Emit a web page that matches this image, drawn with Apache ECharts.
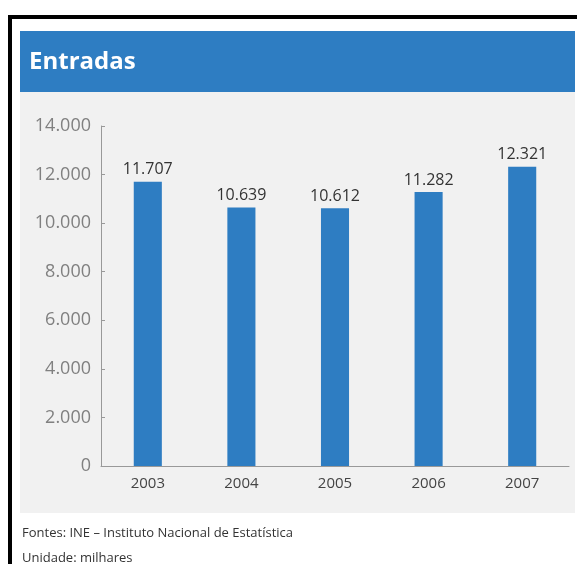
<!DOCTYPE html>
<html>
<head>
<meta charset="utf-8">
<title>Entradas</title>
<script src="https://cdn.jsdelivr.net/npm/echarts@6/dist/echarts.min.js"></script>
<style>
  html, body { margin: 0; padding: 0; background: #ffffff; }
  #chart { width: 577px; height: 564px; }
</style>
</head>
<body>
<div id="chart"></div>
<script>
// Entradas (milhares), 2003–2007
const years = ['2003', '2004', '2005', '2006', '2007'];
const entradas = [11707, 10639, 10612, 11282, 12321];
const yTicks = [0, 2000, 4000, 6000, 8000, 10000, 12000, 14000];

const FONT = '"Open Sans", "Noto Sans", sans-serif';
const BLUE = '#2e7dc2';

// Portuguese thousands separator
function fmt(v) {
  return String(v).replace(/\B(?=(\d{3})+(?!\d))/g, '.');
}

const chart = echarts.init(document.getElementById('chart'), null, { renderer: 'canvas' });

chart.setOption({
  animation: false,
  backgroundColor: '#ffffff',
  graphic: [
    // black frame (top and left edges)
    { type: 'rect', shape: { x: 8, y: 15, width: 569, height: 4 }, style: { fill: '#000' }, z: -10 },
    { type: 'rect', shape: { x: 8, y: 15, width: 4, height: 549 }, style: { fill: '#000' }, z: -10 },
    // header band
    { type: 'rect', shape: { x: 20, y: 31, width: 555, height: 61 }, style: { fill: BLUE }, z: -10 },
    // plot panel
    { type: 'rect', shape: { x: 20, y: 92, width: 555, height: 421 }, style: { fill: '#f1f1f1' }, z: -10 },
    {
      type: 'text', left: 29, top: 50,
      style: { text: 'Entradas', fill: '#ffffff', font: 'bold 24px ' + FONT }
    },
    {
      type: 'text', left: 22, top: 527,
      style: { text: 'Fontes: INE – Instituto Nacional de Estatística', fill: '#333', font: '13px ' + FONT }
    },
    {
      type: 'text', left: 22, top: 552,
      style: { text: 'Unidade: milhares', fill: '#333', font: '13px ' + FONT }
    }
  ],
  grid: { left: 101, right: 8, top: 126, bottom: 98, containLabel: false },
  xAxis: {
    type: 'category',
    data: years,
    axisLine: { lineStyle: { color: '#999', width: 1 } },
    axisTick: { inside: true, length: 8, lineStyle: { color: '#999' } },
    axisLabel: { color: '#444', fontFamily: FONT, fontSize: 15, margin: 10 }
  },
  yAxis: {
    type: 'value',
    min: yTicks[0],
    max: yTicks[yTicks.length - 1],
    interval: yTicks[1] - yTicks[0],
    splitLine: { show: false },
    axisLine: { show: true, lineStyle: { color: '#999', width: 1 } },
    axisTick: { show: true, inside: true, length: 4, lineStyle: { color: '#999' } },
    axisLabel: { color: '#808080', fontFamily: FONT, fontSize: 18, margin: 10, formatter: fmt }
  },
  series: [{
    type: 'bar',
    data: entradas,
    barWidth: '30%',
    itemStyle: { color: BLUE },
    label: {
      show: true,
      position: 'top',
      distance: 4,
      color: '#333',
      fontFamily: FONT,
      fontSize: 16,
      formatter: p => fmt(p.value)
    }
  }]
});
</script>
</body>
</html>
